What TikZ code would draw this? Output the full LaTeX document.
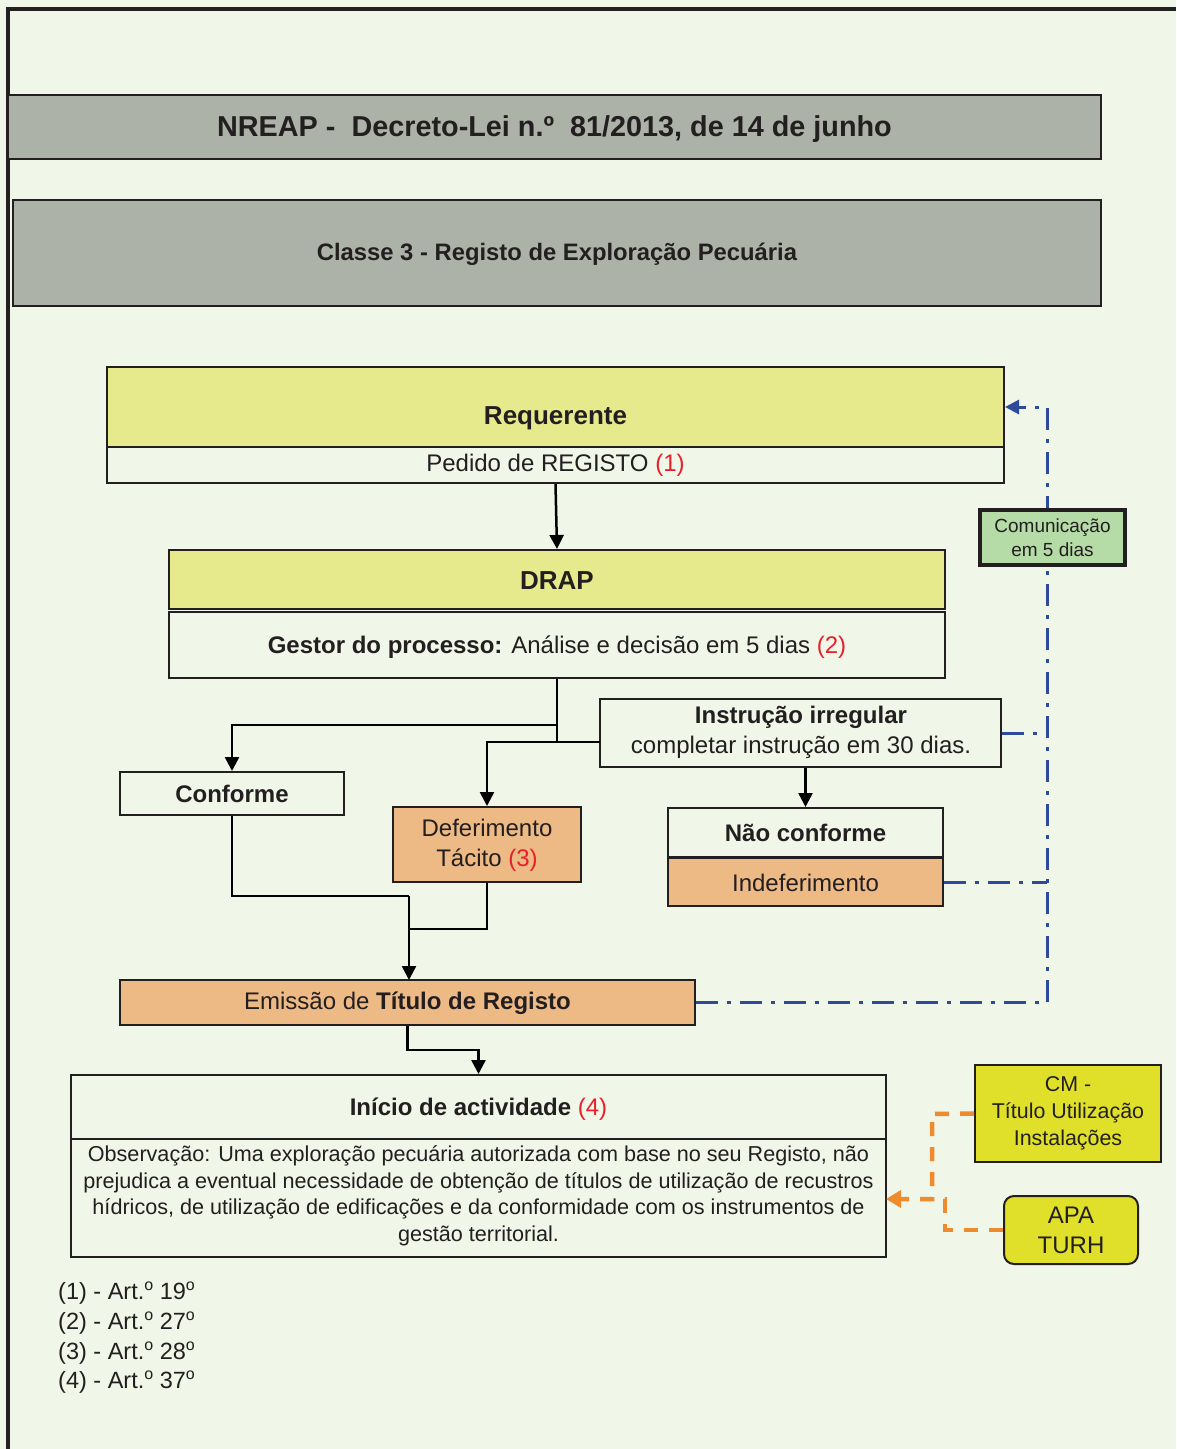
\documentclass[tikz,border=0pt]{standalone}
\usepackage{fontspec}
\setmainfont{Liberation Sans}
\usetikzlibrary{arrows.meta}
\definecolor{bgc}{HTML}{F0F6E8}
\definecolor{titlegray}{HTML}{ACB2A8}
\definecolor{yel}{HTML}{E6EA8C}
\definecolor{org}{HTML}{EDB985}
\definecolor{grn}{HTML}{B5DBA6}
\definecolor{cmyel}{HTML}{E0E02A}
\definecolor{redt}{HTML}{E8202A}
\definecolor{bluel}{HTML}{2E4A9A}
\definecolor{orline}{HTML}{EE8B2E}
\definecolor{txt}{HTML}{231F20}
\newcommand{\fs}[2]{\fontsize{#1}{#2}\selectfont}
\newcommand{\rd}[1]{\textcolor{redt}{#1}}
\newcommand{\ordo}{\raisebox{0.36em}{\fontsize{16}{16}\selectfont o}}
\tikzset{
  box/.style={draw=txt, line width=2pt, inner sep=0pt, text=txt, align=center},
  lbl/.style={inner sep=0pt, text=txt, align=center},
  ln/.style={draw=black, line width=2.5pt},
  arr/.style={ln, -{Triangle[length=14pt,width=14pt]}},
  bdd/.style={draw=bluel, line width=3pt, dash pattern=on 22pt off 9pt on 4pt off 9pt},
  odash/.style={draw=orline, line width=4.5pt, dash pattern=on 14pt off 11pt},
}
\begin{document}
\begin{tikzpicture}[x=1pt,y=-1pt]
\useasboundingbox (0,0) rectangle (1176,1449);
\fill[bgc] (0,0) rectangle (1176,1449);
\draw[line width=3.5pt, txt] (8,1449) -- (8,9) -- (1176,9);

% headers
\node[box, fill=titlegray, minimum width=1093pt, minimum height=64pt] (title) at (554.5,127) {};
\node[lbl, font=\bfseries\fs{28.8}{32}] (titleT) at (554.5,129) {NREAP -\ \ Decreto-Lei n.º\ \ 81/2013, de 14 de junho};
\node[box, fill=titlegray, minimum width=1088pt, minimum height=106pt] (classe) at (557,253) {};
\node[lbl, font=\bfseries\fs{23.8}{28}] (classeT) at (557,254) {Classe 3 - Registo de Exploração Pecuária};

% Requerente
\node[box, fill=yel, minimum width=897pt, minimum height=80pt] (req) at (555.5,407) {};
\node[lbl, font=\bfseries\fs{26}{30}] (reqT) at (555.5,418) {Requerente};
\node[box, fill=bgc, minimum width=897pt, minimum height=36pt] (reqB) at (555.5,465) {};
\node[lbl, font=\fs{24}{28}] (reqBT) at (555.5,465) {Pedido de REGISTO \rd{(1)}};

% DRAP
\node[box, fill=yel, minimum width=776pt, minimum height=59pt] (drap) at (557,579.5) {};
\node[lbl, font=\bfseries\fs{26}{30}] (drapT) at (557,581) {DRAP};
\node[box, fill=bgc, minimum width=776pt, minimum height=66pt] (gestor) at (557,645) {};
\node[lbl, font=\fs{24}{28}] (gestorT) at (557,647) {\textbf{Gestor do processo:} Análise e decisão em 5 dias \rd{(2)}};

% Instrucao irregular
\node[box, fill=bgc, minimum width=401pt, minimum height=68pt] (inst) at (800.5,733) {};
\node[lbl, font=\fs{24}{30}] (instT) at (801,732) {\textbf{Instrução irregular}\\completar instrução em 30 dias.};

% Conforme
\node[box, fill=bgc, minimum width=224pt, minimum height=43pt] (conf) at (232,793.5) {};
\node[lbl, font=\bfseries\fs{24}{28}] (confT) at (232,794) {Conforme};

% Deferimento
\node[box, fill=org, minimum width=188pt, minimum height=75pt] (defer) at (487,844.5) {};
\node[lbl, font=\fs{24}{30}] (deferT) at (487,845) {Deferimento\\Tácito \rd{(3)}};

% Nao conforme / Indeferimento
\node[box, fill=bgc, minimum width=275pt, minimum height=49pt] (nao) at (805.5,832.5) {};
\node[lbl, font=\bfseries\fs{24}{28}] (naoT) at (805.5,833) {Não conforme};
\node[box, fill=org, minimum width=275pt, minimum height=48pt] (indef) at (805.5,882) {};
\node[lbl, font=\fs{24}{28}] (indefT) at (805.5,883) {Indeferimento};

% Emissao
\node[box, fill=org, minimum width=575pt, minimum height=45pt] (emis) at (407.5,1002.5) {};
\node[lbl, font=\fs{24}{28}] (emisT) at (407.5,1003) {Emissão de \textbf{Título de Registo}};

% Inicio
\node[box, fill=bgc, minimum width=815pt, minimum height=182pt] (inicio) at (478.5,1166) {};
\draw[txt, line width=2pt] (inicio.west |- 0,1139) -- (inicio.east |- 0,1139);
\node[lbl, font=\fs{24}{28}] (inicioT) at (478.5,1109) {\textbf{Início de actividade} \rd{(4)}};
\node[lbl, font=\fs{21.6}{26.5}] (obsT) at (478.5,1196) {Observação: Uma exploração pecuária autorizada com base no seu Registo, não\\prejudica a eventual necessidade de obtenção de títulos de utilização de recustros\\hídricos, de utilização de edificações e da conformidade com os instrumentos de\\gestão territorial.};

% CM / APA
\node[box, fill=cmyel, minimum width=186pt, minimum height=97pt, font=\fs{21.4}{27}] (cm) at (1068,1113.5) {CM -\\Título Utilização\\Instalações};
\node[box, fill=cmyel, rounded corners=10pt, minimum width=134pt, minimum height=68pt, font=\fs{24}{30}] (apa) at (1071,1230) {APA\\TURH};

% footnotes
\node[lbl, anchor=west, font=\fs{23.5}{26}] (f1) at (58,1293) {(1) - Art.\ordo{} 19\ordo};
\node[lbl, anchor=west, font=\fs{23.5}{26}] (f2) at (58,1323) {(2) - Art.\ordo{} 27\ordo};
\node[lbl, anchor=west, font=\fs{23.5}{26}] (f3) at (58,1353) {(3) - Art.\ordo{} 28\ordo};
\node[lbl, anchor=west, font=\fs{23.5}{26}] (f4) at (58,1382) {(4) - Art.\ordo{} 37\ordo};

% black connectors
\coordinate (jA) at (557,725);
\coordinate (jB) at (557,742);
\coordinate (iw) at (600,742);
\coordinate (eIn) at (409,980);
\coordinate (jC) at (409,896);
\coordinate (jD) at (409,929);
\draw[arr] (reqB.south) -- (drap.north);
\draw[ln] (gestor.south) -- (jB);
\draw[arr] (jA) -| (conf.north);
\draw[arr] (iw) -| (defer.north);
\draw[arr] (nao.north |- inst.south) -- (nao.north);
\draw[ln] (conf.south) |- (jC);
\draw[arr] (jC) -- (eIn);
\draw[ln] (defer.south) |- (jD);
\draw[arr] (emis.south) -- ++(0,24) -| (inicio.north);

% blue dash-dot connectors
\coordinate (bV1) at (1047,1002.5);
\coordinate (bV2) at (1047,407);
\coordinate (bI) at (1047,733);
\coordinate (bN) at (1047,882);
\draw[bdd, -{Triangle[length=14pt,width=14pt]}] (emis.east) -- (bV1) -- (bV2) -- (req.east);
\draw[bdd] (inst.east) -- (bI);
\draw[bdd] (indef.east) -- (bN);
\node[box, fill=grn, line width=3.5pt, minimum width=145pt, minimum height=55pt, font=\fs{19}{24}] (com) at (1052.5,537.5) {Comunicação\\em 5 dias};

% orange dashed connectors
\coordinate (oA) at (932,1114);
\coordinate (oB) at (932,1199);
\coordinate (oE) at (886,1199);
\coordinate (oC) at (945,1230);
\coordinate (oD) at (945,1199);
\draw[odash, -{Triangle[length=15pt,width=17pt]}] (cm.west) -- (oA) -- (oB) -- (oE);
\draw[odash] (apa.west) -- (oC) -- (oD) -- (oB);
\end{tikzpicture}
\end{document}
